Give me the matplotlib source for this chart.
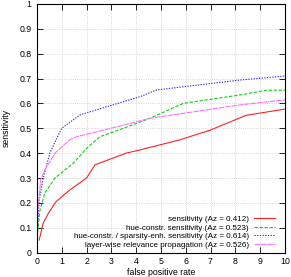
import numpy as np
import matplotlib
matplotlib.use("Agg")
import matplotlib.pyplot as plt

# ROC-like curves
fpr_sens = [0.09, 0.25, 0.46, 0.77, 1.33, 2.0, 2.34, 3.6, 4.16, 5.75, 7.0, 8.44, 10.0]
tpr_sens = [0.051, 0.118, 0.158, 0.205, 0.252, 0.30, 0.353, 0.40, 0.413, 0.453, 0.493, 0.552, 0.577]

fpr_hue = [0.01, 0.12, 0.32, 0.73, 1.47, 2.07, 2.54, 3.49, 4.56, 5.9, 8.2, 9.27, 10.0]
tpr_hue = [0.064, 0.17, 0.24, 0.30, 0.36, 0.426, 0.466, 0.50, 0.54, 0.60, 0.634, 0.653, 0.653]

fpr_sparse = [0.01, 0.09, 0.25, 0.52, 0.8, 1.0, 1.74, 4.16, 4.83, 8.2, 10.0]
tpr_sparse = [0.08, 0.21, 0.30, 0.40, 0.46, 0.50, 0.554, 0.627, 0.654, 0.694, 0.71]

fpr_lrp = [0.02, 0.15, 0.32, 0.73, 1.31, 1.6, 3.35, 4.56, 8.2, 10.0]
tpr_lrp = [0.15, 0.292, 0.333, 0.40, 0.453, 0.466, 0.509, 0.54, 0.594, 0.614]

labels = ["sensitivity (Az = 0.412)",
          "hue-constr. sensitivity (Az = 0.523)",
          "hue-constr. / sparsity-enh. sensitivity (Az = 0.614)",
          "layer-wise relevance propagation (Az = 0.526)"]

plt.rcParams["font.family"] = "Liberation Sans"
plt.rcParams["font.size"] = 6.3

fig = plt.figure(figsize=(2.91, 2.77), dpi=100)
ax = fig.add_axes([0.127, 0.088, 0.852, 0.898])

ax.plot(fpr_sens, tpr_sens, color="#ff2020", lw=0.8, label=labels[0])
ax.plot(fpr_hue, tpr_hue, color="#10d010", lw=0.8, linestyle=(0, (3, 1.5)), label=labels[1])
ax.plot(fpr_sparse, tpr_sparse, color="#3030f0", lw=0.8, linestyle=(0, (1.2, 1.2)), label=labels[2])
ax.plot(fpr_lrp, tpr_lrp, color="#ff70ff", lw=0.8, linestyle=(0, (5, 0.8)), label=labels[3])

ax.set_xlim(0, 10)
ax.set_ylim(0, 1)
ax.set_xticks(np.arange(0, 11, 1))
ax.set_yticks(np.arange(0, 1.01, 0.1))
ax.set_yticklabels(["0", "0.1", "0.2", "0.3", "0.4", "0.5", "0.6", "0.7", "0.8", "0.9", "1"])
ax.tick_params(direction="in", length=4, width=0.6, top=True, right=True, pad=4)
ax.tick_params(axis="x", pad=3)
ax.grid(color="#c8c8c8", linestyle=":", linewidth=0.6)
for s in ax.spines.values():
    s.set_linewidth(0.8)

ax.set_xlabel("false positive rate", labelpad=1.5)
ax.set_ylabel("sensitivity", labelpad=6)

leg = ax.legend(loc="lower right", frameon=False, markerfirst=False, fontsize=5.8,
                handlelength=2.6, handletextpad=0.6, labelspacing=0.1,
                borderaxespad=0.1, bbox_to_anchor=(0.975, 0.0))
for t in leg.get_texts():
    t.set_ha("right")

plt.savefig("out.png", dpi=100)
